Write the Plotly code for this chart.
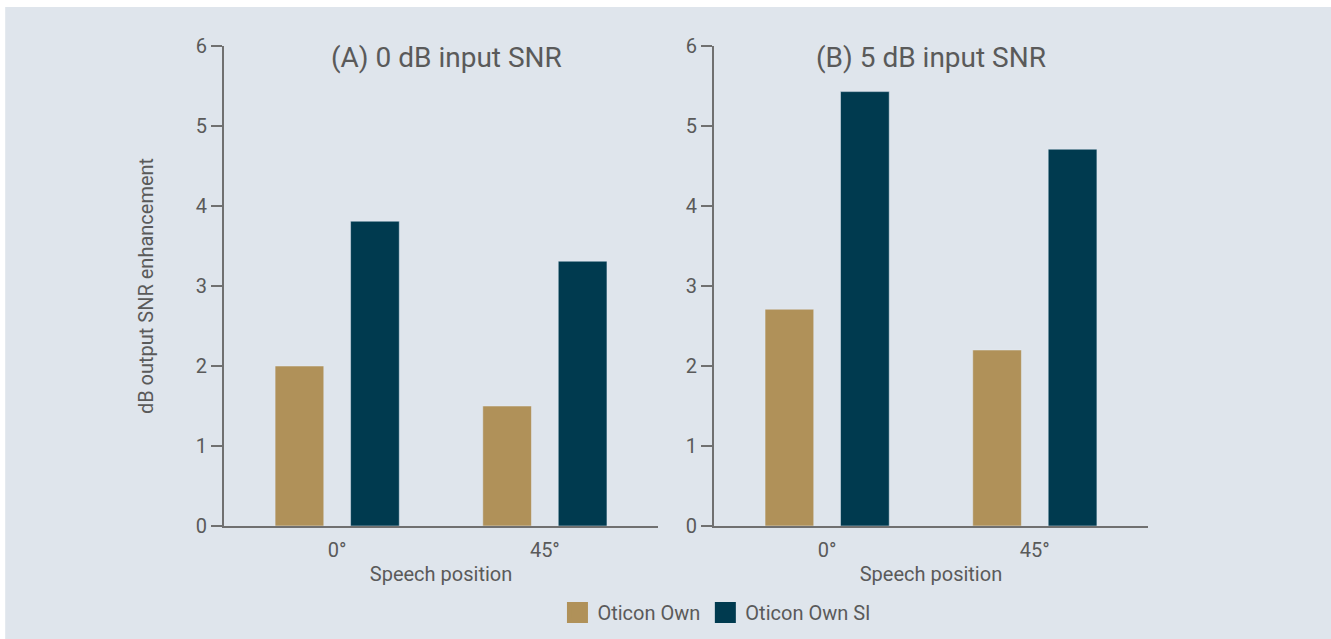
import plotly.graph_objects as go
from plotly.subplots import make_subplots

positions = ["0°", "45°"]
own_0db = [2.0, 1.5]
own_si_0db = [3.81, 3.31]
own_5db = [2.71, 2.2]
own_si_5db = [5.43, 4.71]
panel_titles = ["(A) 0 dB input SNR", "(B) 5 dB input SNR"]
series_names = ["Oticon Own", "Oticon Own SI"]
y_ticks = [0, 1, 2, 3, 4, 5, 6]

C_OWN = "#b09159"
C_SI = "#003a4f"
BG = "#dfe5ec"
TXT = "#5a5a5a"
AX = "#707070"
FONT = "Roboto"

fig = make_subplots(rows=1, cols=2, horizontal_spacing=0.0605)

for col, (a, b) in enumerate([(own_0db, own_si_0db), (own_5db, own_si_5db)], start=1):
    fig.add_trace(go.Bar(x=positions, y=a, name=series_names[0], marker_color=C_OWN,
                         showlegend=False, hoverinfo="x+y"), row=1, col=col)
    fig.add_trace(go.Bar(x=positions, y=b, name=series_names[1], marker_color=C_SI,
                         showlegend=False, hoverinfo="x+y"), row=1, col=col)

# legend entries
for name, c in zip(series_names, [C_OWN, C_SI]):
    fig.add_trace(go.Scatter(x=[None], y=[None], mode="markers", name=name,
                             marker=dict(symbol="square", size=16, color=c,
                                         line=dict(color=c, width=5))))

fig.update_layout(
    width=1331, height=639,
    paper_bgcolor="white", plot_bgcolor=BG,
    margin=dict(l=224, r=183, t=46, b=112.5, autoexpand=False),
    bargap=0.273, bargroupgap=0.355,
    font=dict(family=FONT, color=TXT, size=20),
    showlegend=True,
    legend=dict(orientation="h", x=0.5335, xanchor="center", y=-0.18, yanchor="middle",
                bgcolor="rgba(0,0,0,0)", font=dict(size=20, color=TXT),
                itemsizing="trace", traceorder="normal"),
    shapes=[dict(type="rect", xref="paper", yref="paper", x0=-0.2368, x1=1.2, y0=-0.25, y1=1.0812,
                 fillcolor=BG, line=dict(width=0), layer="below")],
)

fig.update_xaxes(range=[-0.545, 1.545], showline=True, linecolor=AX, linewidth=2,
                 showgrid=False, zeroline=False, ticks="", tickfont=dict(size=20, color=TXT),
                 ticklabelstandoff=5,
                 title=dict(text="Speech position", font=dict(size=20, color=TXT), standoff=6))
fig.update_yaxes(range=[0, 6], tickvals=y_ticks, showline=True, linecolor=AX, linewidth=2,
                 showgrid=False, zeroline=False, ticks="outside", ticklen=11, tickwidth=2,
                 tickcolor=AX, tickfont=dict(size=20, color=TXT))

for i, t in enumerate(panel_titles):
    fig.add_annotation(text=t, xref="paper", yref="paper", x=[0.241, 0.765][i], y=0.977,
                       showarrow=False, font=dict(size=28, color=TXT), xanchor="center", yanchor="middle")

fig.add_annotation(text="dB output SNR enhancement", xref="paper", yref="paper",
                   x=-0.0843, y=0.5, textangle=-90, showarrow=False,
                   font=dict(size=20, color=TXT), xanchor="center", yanchor="middle")

fig.write_html("out.html", config={"displayModeBar": False},
               post_script="document.body.style.margin='0';document.body.style.overflow='hidden';")
